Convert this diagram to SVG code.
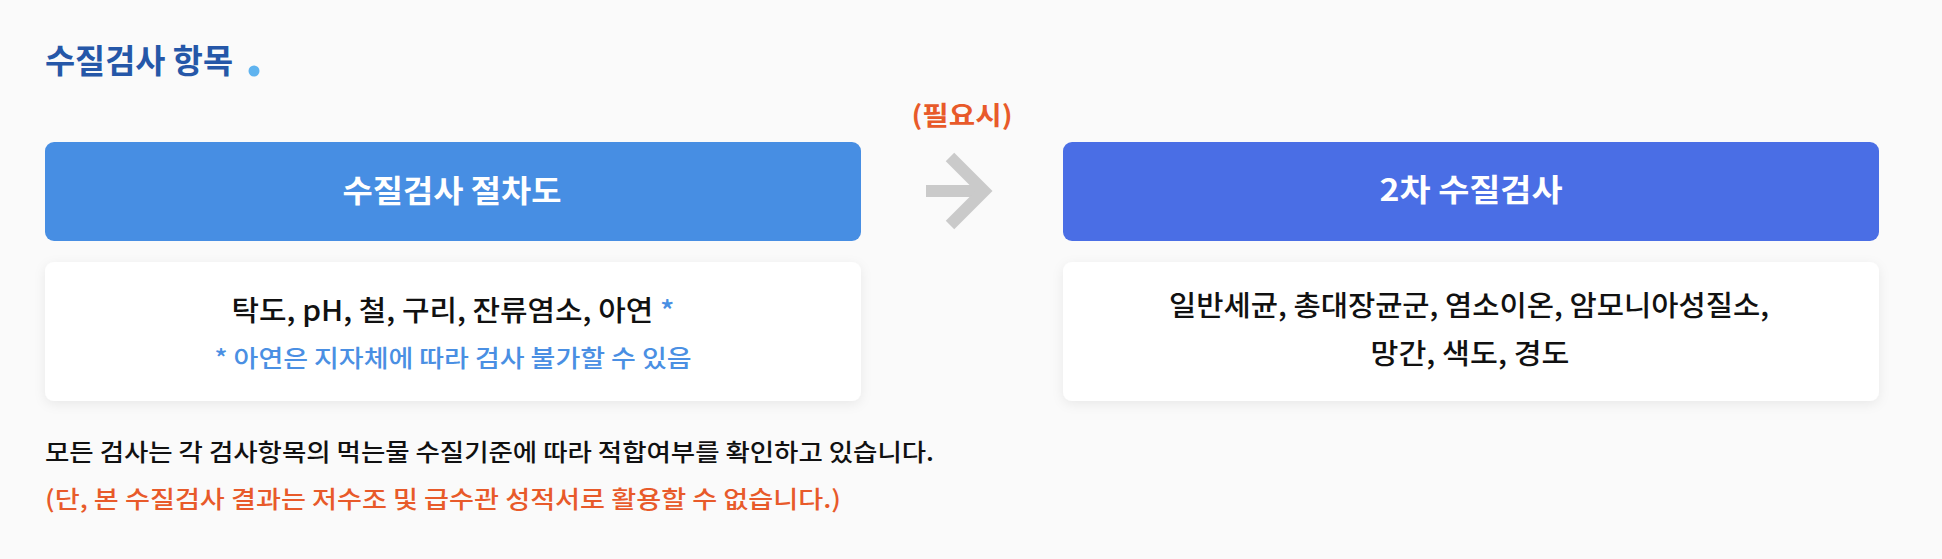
<svg xmlns="http://www.w3.org/2000/svg" width="1942" height="559" viewBox="0 0 1942 559">
  <defs>
    <filter id="shadow" x="-5%" y="-20%" width="110%" height="150%">
      <feDropShadow dx="0" dy="3" stdDeviation="6" flood-color="#000" flood-opacity="0.07"/>
    </filter>
    <style>
      .t { font-family: "Noto Sans CJK KR", "Noto Sans", sans-serif; }
      .hdr { font-size: 31px; font-weight: 700; fill: #ffffff; text-anchor: middle; }
      .body { font-size: 28px; font-weight: 500; fill: #111111; text-anchor: middle; }
      .note { font-size: 24px; font-weight: 500; fill: #4a8fe3; text-anchor: middle; }
      .foot { font-size: 24px; font-weight: 500; }
      .card { fill: #ffffff; filter: url(#shadow); }
      .arrow { fill: none; stroke: #cacaca; stroke-width: 12; stroke-linejoin: miter; stroke-linecap: butt; }
    </style>
  </defs>
  <rect x="0" y="0" width="1942" height="559" fill="#fafafa"/>

  <g id="title">
    <text class="t" x="45" y="73" font-size="33" font-weight="700" fill="#2557a8" textLength="188" lengthAdjust="spacingAndGlyphs">수질검사 항목</text>
    <circle cx="254" cy="71" r="5.5" fill="#5fb3ef"/>
  </g>

  <g id="node-left-header">
    <rect x="45" y="142" width="816" height="99" rx="9" fill="#478ee3"/>
    <text class="t hdr" x="452" y="202" textLength="219" lengthAdjust="spacingAndGlyphs">수질검사 절차도</text>
  </g>

  <g id="node-left-content">
    <rect class="card" x="45" y="262" width="816" height="139" rx="9"/>
    <text class="t body" x="453" y="321" textLength="443" lengthAdjust="spacingAndGlyphs">탁도, pH, 철, 구리, 잔류염소, 아연 <tspan fill="#4a8fe3">*</tspan></text>
    <text class="t note" x="453" y="367" textLength="477" lengthAdjust="spacingAndGlyphs">* 아연은 지자체에 따라 검사 불가할 수 있음</text>
  </g>

  <g id="node-right-header">
    <rect x="1063" y="142" width="816" height="99" rx="9" fill="#4a6ee5"/>
    <text class="t hdr" x="1471" y="201" textLength="183" lengthAdjust="spacingAndGlyphs">2차 수질검사</text>
  </g>

  <g id="node-right-content">
    <rect class="card" x="1063" y="262" width="816" height="139" rx="9"/>
    <text class="t body" x="1469" y="316" textLength="600" lengthAdjust="spacingAndGlyphs">일반세균, 총대장균군, 염소이온, 암모니아성질소,</text>
    <text class="t body" x="1470" y="364" textLength="199" lengthAdjust="spacingAndGlyphs">망간, 색도, 경도</text>
  </g>

  <g id="connectors">
    <path class="arrow" d="M926,191 L984,191"/>
    <path class="arrow" d="M950,157 L984,191 L950,225"/>
    <text class="t" x="962" y="125" font-size="26" font-weight="700" fill="#e85a2a" text-anchor="middle" textLength="101" lengthAdjust="spacingAndGlyphs">(필요시)</text>
  </g>

  <g id="notes">
    <text class="t foot" x="45" y="461" fill="#111111" textLength="889" lengthAdjust="spacingAndGlyphs">모든 검사는 각 검사항목의 먹는물 수질기준에 따라 적합여부를 확인하고 있습니다.</text>
    <text class="t foot" x="45" y="508" fill="#e85a2a" textLength="796" lengthAdjust="spacingAndGlyphs">(단, 본 수질검사 결과는 저수조 및 급수관 성적서로 활용할 수 없습니다.)</text>
  </g>
</svg>
